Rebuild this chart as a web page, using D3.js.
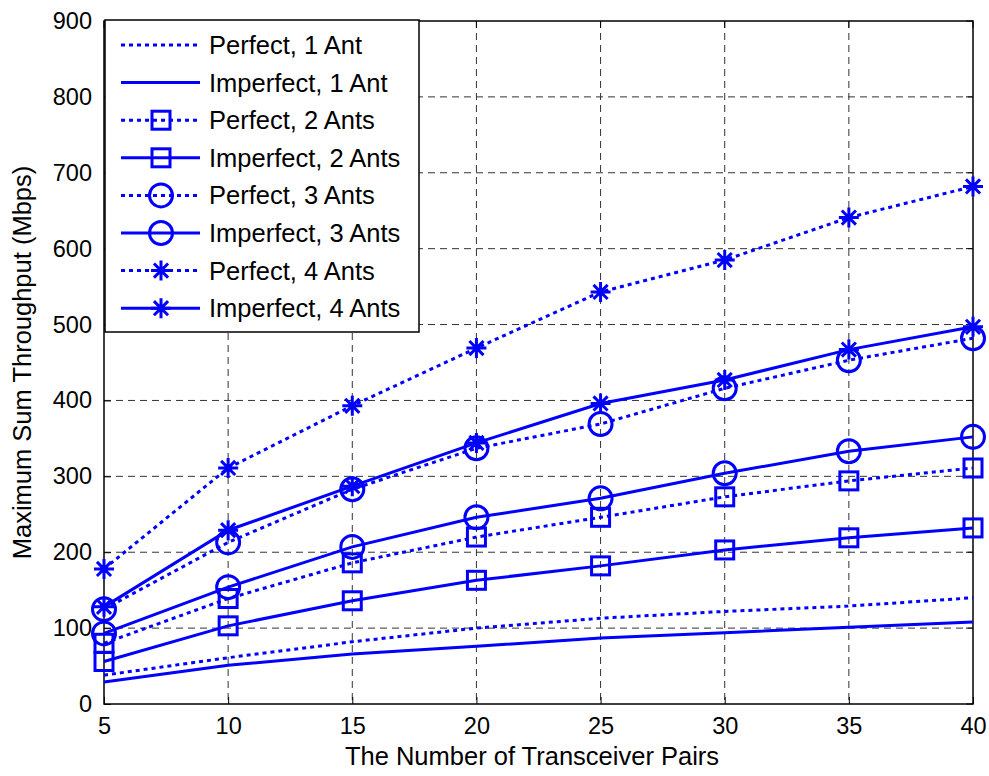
<!DOCTYPE html>
<html>
<head>
<meta charset="utf-8">
<script src="https://cdn.jsdelivr.net/npm/d3@7"></script>
<style>
  body { margin: 0; background: #fff; }
  text { font-family: "Liberation Sans", Arial, sans-serif; }
</style>
</head>
<body>
<div id="chart"></div>
<script>
// Data
const pairs = [5, 10, 15, 20, 25, 30, 35, 40];
const perfect1 = [38, 61, 82, 100, 113, 122, 129, 140];
const imperfect1 = [29, 51, 66, 76, 87, 94, 101, 108];
const perfect2 = [80, 139, 186, 220, 246, 273, 294, 311];
const imperfect2 = [56, 103, 136, 163, 182, 203, 219, 232];
const perfect3 = [125, 213, 283, 337, 369, 416, 453, 482];
const imperfect3 = [93, 154, 207, 246, 271, 304, 333, 352];
const perfect4 = [178, 311, 393, 469, 543, 585, 641, 682];
const imperfect4 = [128, 229, 287, 344, 396, 427, 467, 497];
const yTicks = [0, 100, 200, 300, 400, 500, 600, 700, 800, 900];

const series = [
  {name: 'Perfect, 1 Ant', values: perfect1, dotted: true, marker: null},
  {name: 'Imperfect, 1 Ant', values: imperfect1, dotted: false, marker: null},
  {name: 'Perfect, 2 Ants', values: perfect2, dotted: true, marker: 'square'},
  {name: 'Imperfect, 2 Ants', values: imperfect2, dotted: false, marker: 'square'},
  {name: 'Perfect, 3 Ants', values: perfect3, dotted: true, marker: 'circle'},
  {name: 'Imperfect, 3 Ants', values: imperfect3, dotted: false, marker: 'circle'},
  {name: 'Perfect, 4 Ants', values: perfect4, dotted: true, marker: 'star'},
  {name: 'Imperfect, 4 Ants', values: imperfect4, dotted: false, marker: 'star'}
];

const W = 989, H = 776;
const margin = {top: 21, right: 16, bottom: 72, left: 104};
const width = W - margin.left - margin.right;
const height = H - margin.top - margin.bottom;
const blue = '#0000ff';

const svg = d3.select('#chart').append('svg')
    .attr('width', W)
    .attr('height', H);

const chart = svg.append('g')
    .attr('transform', `translate(${margin.left},${margin.top})`);

const x = d3.scaleLinear().domain([5, 40]).range([0, width]);
const y = d3.scaleLinear().domain([0, 900]).range([height, 0]);

// grid
chart.append('g').selectAll('line')
    .data(pairs.slice(1, -1))
  .join('line')
    .attr('x1', d => x(d)).attr('x2', d => x(d))
    .attr('y1', 0).attr('y2', height)
    .attr('stroke', '#333').attr('stroke-width', 1)
    .attr('stroke-dasharray', '7,5');
chart.append('g').selectAll('line')
    .data(yTicks.slice(1, -1))
  .join('line')
    .attr('x1', 0).attr('x2', width)
    .attr('y1', d => y(d)).attr('y2', d => y(d))
    .attr('stroke', '#333').attr('stroke-width', 1)
    .attr('stroke-dasharray', '7,5');

// axes
const xAxis = chart.append('g')
    .attr('transform', `translate(0,${height})`)
    .call(d3.axisBottom(x).tickValues(pairs).tickSizeInner(-7).tickSizeOuter(0).tickPadding(13));
const yAxis = chart.append('g')
    .call(d3.axisLeft(y).tickValues(yTicks).tickSizeInner(-7).tickSizeOuter(0).tickPadding(12));
[xAxis, yAxis].forEach(a => {
  a.select('.domain').remove();
  a.selectAll('text').attr('font-size', 23.5).attr('fill', '#000')
      .style('font-family', '"Liberation Sans", Arial, sans-serif');
  a.selectAll('line').attr('stroke', '#000');
});
// top / right ticks
chart.append('g').selectAll('line')
    .data(pairs)
  .join('line')
    .attr('x1', d => x(d)).attr('x2', d => x(d))
    .attr('y1', 0).attr('y2', 7).attr('stroke', '#000');
chart.append('g').selectAll('line')
    .data(yTicks)
  .join('line')
    .attr('x1', width - 7).attr('x2', width)
    .attr('y1', d => y(d)).attr('y2', d => y(d)).attr('stroke', '#000');

chart.append('rect')
    .attr('width', width).attr('height', height)
    .attr('fill', 'none').attr('stroke', '#000').attr('stroke-width', 1.5);

// markers
const starPath = r => {
  const d = r * 0.707;
  return `M${-r},0L${r},0M0,${-r}L0,${r}M${-d},${-d}L${d},${d}M${-d},${d}L${d},${-d}`;
};
function drawMarker(g, type) {
  if (type === 'square') {
    g.append('rect').attr('x', -9).attr('y', -9).attr('width', 18).attr('height', 18)
        .attr('fill', 'none').attr('stroke', blue).attr('stroke-width', 3);
  } else if (type === 'circle') {
    g.append('circle').attr('r', 11.5)
        .attr('fill', 'none').attr('stroke', blue).attr('stroke-width', 3);
  } else if (type === 'star') {
    g.append('path').attr('d', starPath(10))
        .attr('fill', 'none').attr('stroke', blue).attr('stroke-width', 3);
  }
}

const line = d3.line()
    .x((d, i) => x(pairs[i]))
    .y(d => y(d));

series.forEach(s => {
  chart.append('path')
      .datum(s.values)
      .attr('d', line)
      .attr('fill', 'none')
      .attr('stroke', blue)
      .attr('stroke-width', 3)
      .attr('stroke-dasharray', s.dotted ? '4,4' : null);
  if (s.marker) {
    s.values.forEach((v, i) => {
      const g = chart.append('g').attr('transform', `translate(${x(pairs[i])},${y(v)})`);
      drawMarker(g, s.marker);
    });
  }
});

// legend
const legend = chart.append('g').attr('transform', 'translate(1,-1)');
legend.append('rect')
    .attr('width', 314).attr('height', 312)
    .attr('fill', '#fff').attr('stroke', '#000').attr('stroke-width', 1.5);
series.forEach((s, i) => {
  const row = legend.append('g').attr('transform', `translate(0,${25 + i * 37.6})`);
  row.append('line')
      .attr('x1', 16).attr('x2', 95)
      .attr('stroke', blue).attr('stroke-width', 3)
      .attr('stroke-dasharray', s.dotted ? '4,4' : null);
  if (s.marker) {
    const g = row.append('g').attr('transform', 'translate(56,0)');
    drawMarker(g, s.marker);
  }
  row.append('text')
      .attr('x', 104).attr('dy', '0.35em')
      .attr('font-size', 25.5)
      .text(s.name);
});

// axis titles
svg.append('text')
    .attr('x', 532).attr('y', 765)
    .attr('text-anchor', 'middle').attr('font-size', 25.5)
    .text('The Number of Transceiver Pairs');
svg.append('text')
    .attr('transform', `translate(31,${margin.top + height / 2}) rotate(-90)`)
    .attr('text-anchor', 'middle').attr('font-size', 25.5)
    .text('Maximum Sum Throughput (Mbps)');
</script>
</body>
</html>
